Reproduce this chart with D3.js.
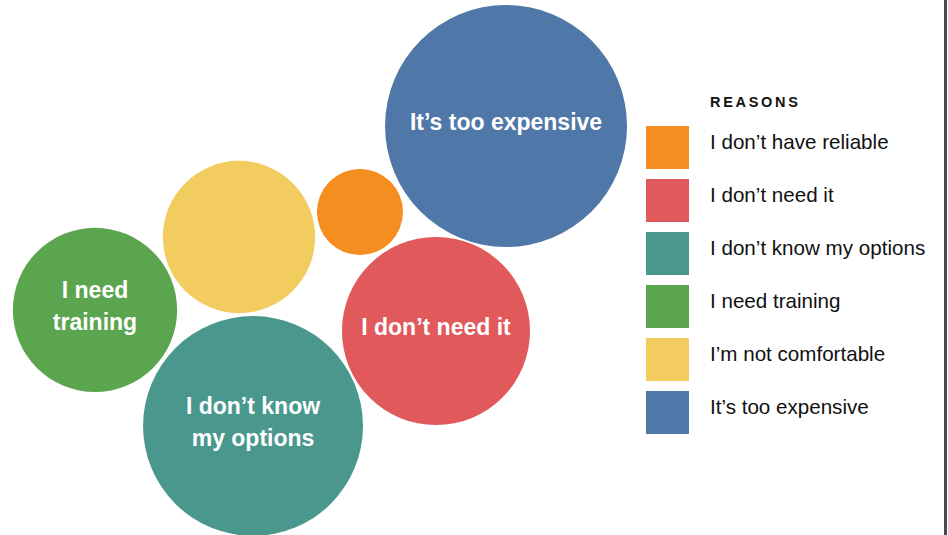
<!DOCTYPE html>
<html>
<head>
<meta charset="utf-8">
<script src="https://cdn.jsdelivr.net/npm/d3@7"></script>
<style>
  html, body { margin: 0; padding: 0; background: #fff; }
  svg { display: block; font-family: "Liberation Sans", Arial, Helvetica, sans-serif; }
</style>
</head>
<body>
<div id="chart"></div>
<script>
// reasons, in legend order
const reasons = [
  'I don’t have reliable',
  'I don’t need it',
  'I don’t know my options',
  'I need training',
  'I’m not comfortable',
  'It’s too expensive'
];
// share of responses (%)
const shares = [3.7, 17.7, 24.2, 13.5, 11.6, 29.3];
// text written inside each bubble
const bubbleLabels = [
  [],
  ['I don’t need it'],
  ['I don’t know', 'my options'],
  ['I need', 'training'],
  [],
  ['It’s too expensive']
];
const colors = ['#F68D21', '#E1595B', '#4A978E', '#5CA54F', '#F2CC5E', '#4F77A8'];

// where each bubble sits, in percent of the canvas
const layoutX = [37.97, 45.99, 26.69, 10.02, 25.21, 53.38];
const layoutY = [39.63, 61.87, 79.63, 57.94, 44.30, 23.55];

const width = 948, height = 535;

const svg = d3.select('#chart').append('svg')
  .attr('width', width)
  .attr('height', height);

const x = d3.scaleLinear().domain([0, 100]).range([0, width]);
const y = d3.scaleLinear().domain([0, 100]).range([0, height]);
const r = d3.scaleSqrt().domain([0, d3.max(shares)]).range([0, 121]);

const data = reasons.map((name, i) => ({
  name, share: shares[i], lines: bubbleLabels[i], color: colors[i],
  px: layoutX[i], py: layoutY[i]
}));

const bubbles = svg.append('g')
  .selectAll('g')
  .data(data)
  .enter().append('g')
  .attr('transform', d => `translate(${x(d.px)},${y(d.py)})`);

bubbles.append('circle')
  .attr('r', d => r(d.share))
  .attr('fill', d => d.color);

bubbles.append('text')
  .attr('text-anchor', 'middle')
  .attr('fill', '#fff')
  .style('font-weight', 'bold')
  .style('font-size', '23px')
  .selectAll('tspan')
  .data(d => d.lines.map((t, i) => ({t, i, n: d.lines.length})))
  .enter().append('tspan')
  .attr('x', 0)
  .attr('y', d => 4 + (d.i - (d.n - 1) / 2) * 31.5)
  .text(d => d.t);

// legend
const legend = svg.append('g').attr('transform', 'translate(646,0)');

legend.append('text')
  .attr('x', 64)
  .attr('y', 107)
  .attr('fill', '#111')
  .style('font-weight', 'bold')
  .style('font-size', '14.5px')
  .style('letter-spacing', '2.7px')
  .text('REASONS');

const ly = d3.scaleBand()
  .domain(reasons)
  .range([126, 126 + 53 * reasons.length]);

const items = legend.selectAll('.item')
  .data(data)
  .enter().append('g')
  .attr('class', 'item')
  .attr('transform', d => `translate(0,${ly(d.name)})`);

items.append('rect')
  .attr('width', 43)
  .attr('height', 43)
  .attr('fill', d => d.color);

items.append('text')
  .attr('x', 64)
  .attr('y', 23)
  .attr('fill', '#111')
  .style('font-size', '20.6px')
  .text(d => d.name);

// frame edge on the right
svg.append('rect')
  .attr('x', 944)
  .attr('y', 0)
  .attr('width', 3)
  .attr('height', height)
  .attr('fill', '#4a4a4a');
</script>
</body>
</html>
